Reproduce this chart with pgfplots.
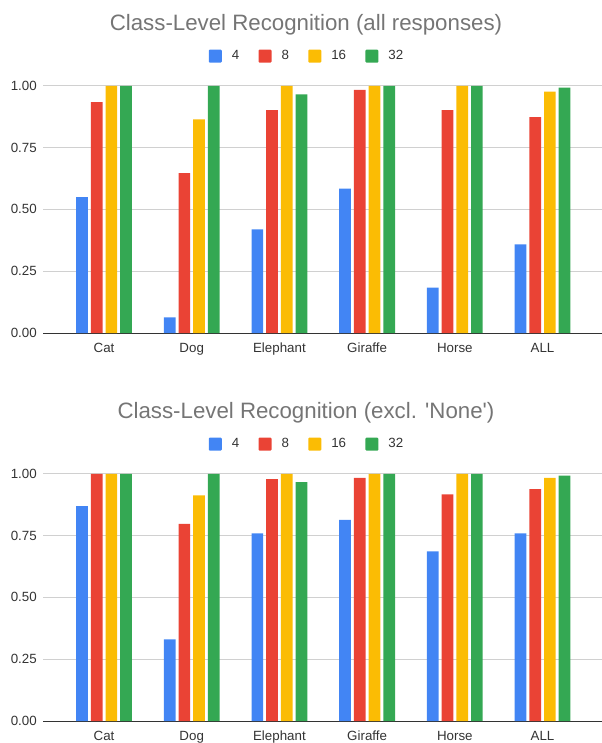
\documentclass[border=0pt]{standalone}
\usepackage{fontspec}
\setmainfont{Liberation Sans}
\newfontfamily\titlefont{Liberation Sans}
\usepackage{pgfplots}
\usepackage{pgfplotstable}
\pgfplotsset{compat=1.18}
\definecolor{gblue}{HTML}{4285F4}
\definecolor{gred}{HTML}{EA4335}
\definecolor{gyellow}{HTML}{FBBC04}
\definecolor{ggreen}{HTML}{34A853}
\definecolor{titlegray}{HTML}{757575}
\definecolor{ticktext}{HTML}{333333}
\definecolor{gridgray}{HTML}{D0D0D0}

\pgfplotstableread{
x  cat      a     b     c     d
0  Cat      0.550 0.934 1.000 1.000
1  Dog      0.063 0.647 0.864 1.000
2  Elephant 0.419 0.902 1.000 0.965
3  Giraffe  0.584 0.984 1.000 1.000
4  Horse    0.184 0.902 1.000 1.000
5  ALL      0.359 0.873 0.976 0.993
}\alltable

\pgfplotstableread{
x  cat      a     b     c     d
0  Cat      0.869 1.000 1.000 1.000
1  Dog      0.330 0.797 0.913 1.000
2  Elephant 0.759 0.979 1.000 0.966
3  Giraffe  0.814 0.984 1.000 1.000
4  Horse    0.686 0.917 1.000 1.000
5  ALL      0.759 0.938 0.984 0.993
}\excltable

\pgfplotsset{
  gchart/.style={
    scale only axis,
    width=419.25pt, height=185.4pt,
    anchor=south west,
    xmin=-0.6956, xmax=5.678,
    ymin=0, ymax=1,
    clip=false,
    ybar, bar width=0.1334,
    xtick={0,1,2,3,4,5},
    xticklabels={Cat,Dog,Elephant,Giraffe,Horse,ALL},
    ytick={0,0.25,0.5,0.75,1},
    /pgf/number format/fixed,
    /pgf/number format/fixed zerofill,
    /pgf/number format/precision=2,
    /pgf/number format/assume math mode=true,
    yticklabel style={anchor=east, inner sep=0pt, xshift=-4.5pt, font=\fontsize{10}{12}\selectfont, text=ticktext},
    xticklabel style={anchor=base, inner sep=0pt, yshift=-14.8pt, font=\fontsize{10}{12}\selectfont, text=ticktext},
    major tick length=0pt,
    tick style={draw=none},
    ymajorgrids,
    grid style={draw=gridgray, line width=0.75pt},
    axis x line*=bottom,
    axis y line*=left,
    y axis line style={draw=none},
    x axis line style={draw=ticktext, line width=0.7pt, -},
    legend columns=4,
    legend style={at={(0.4705,1.12)}, anchor=center, draw=none, fill=none,
      font=\fontsize{10}{12}\selectfont, text=ticktext,
      nodes={inner sep=0pt},
      /tikz/every odd column/.append style={column sep=7.5pt},
      /tikz/every even column/.append style={column sep=14.5pt}},
    legend image code/.code={\path[##1, draw=none, rounded corners=0.8pt] (0pt,-4.875pt) rectangle (9.75pt,4.875pt);},
  }
}

\begin{document}
\begin{tikzpicture}
\path[use as bounding box] (0pt,0pt) rectangle (451.5pt,-557.25pt);

\node[anchor=base, text=titlegray, font=\titlefont\fontsize{16.7}{20}\selectfont] at (229.5pt,-22.5pt) {Class-Level Recognition (all responses)};
\node[anchor=base, text=titlegray, font=\titlefont\fontsize{16.7}{20}\selectfont] at (229.5pt,-313.7pt) {Class-Level Recognition (excl. 'None')};

\begin{axis}[gchart, at={(32.25pt,-249.75pt)}]
\addplot[fill=gblue, draw=none, bar shift=-0.2514] table[x=x, y=a] {\alltable};
\addplot[fill=gred, draw=none, bar shift=-0.0838] table[x=x, y=b] {\alltable};
\addplot[fill=gyellow, draw=none, bar shift=0.0838] table[x=x, y=c] {\alltable};
\addplot[fill=ggreen, draw=none, bar shift=0.2514] table[x=x, y=d] {\alltable};
\legend{4,8,16,32}
\end{axis}

\begin{axis}[gchart, at={(32.25pt,-540.75pt)}]
\addplot[fill=gblue, draw=none, bar shift=-0.2514] table[x=x, y=a] {\excltable};
\addplot[fill=gred, draw=none, bar shift=-0.0838] table[x=x, y=b] {\excltable};
\addplot[fill=gyellow, draw=none, bar shift=0.0838] table[x=x, y=c] {\excltable};
\addplot[fill=ggreen, draw=none, bar shift=0.2514] table[x=x, y=d] {\excltable};
\legend{4,8,16,32}
\end{axis}
\end{tikzpicture}
\end{document}
